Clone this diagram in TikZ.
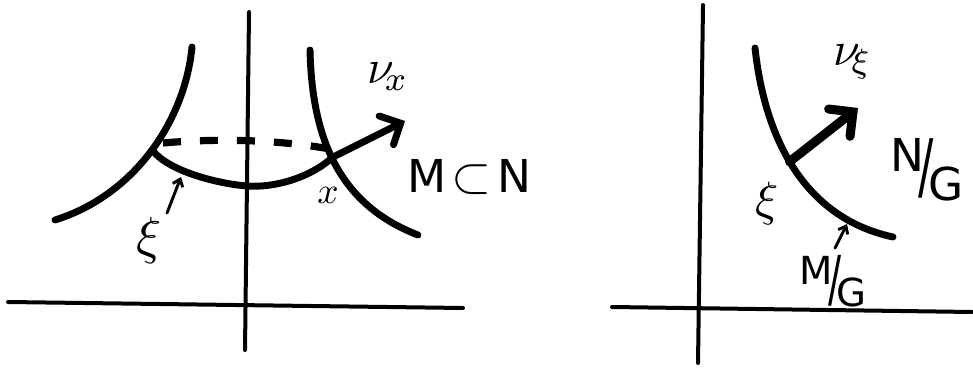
\documentclass[tikz,border=0pt]{standalone}
\usepackage{graphicx}
\usepackage{fontspec}
\setmainfont{DejaVu Sans}
\usetikzlibrary{arrows.meta}
\newcommand{\mysc}[2]{\scalebox{#1}{$#2$}}
\newcommand{\myslash}{\raisebox{-0.12em}{\scalebox{1}[1.6]{/}}}
\tikzset{
  axis/.style={line width=3pt, line cap=round},
  curve/.style={line width=5.2pt, line cap=round},
  dashcurve/.style={line width=5.4pt, line cap=butt, dash pattern=on 13.5pt off 14.25pt},
  bigarrow/.style={line width=5.2pt, line cap=round, -{Straight Barb[length=12pt,width=24pt,line cap=round]}},
  fatarrow/.style={line width=6.8pt, line cap=round, -{Straight Barb[length=13pt,width=26pt,line cap=round]}},
  smallarrow/.style={line width=2.2pt, line cap=round, -{Straight Barb[length=5pt,width=8pt]}},
  lbl/.style={inner sep=0pt},
  capslbl/.style={inner sep=0pt, font=\fontsize{34}{40}\selectfont},
  mglbl/.style={inner sep=0pt, font=\fontsize{29}{34}\selectfont}
}
\begin{document}
\begin{tikzpicture}[x=0.75pt,y=-0.75pt]
\useasboundingbox (0,0) rectangle (973,370);

% ---------------- left panel ----------------
\coordinate (LvT) at (249,12);
\coordinate (LvB) at (245,350);
\coordinate (LhL) at (8,302);
\coordinate (LhR) at (463,308);
\draw[axis] (LvT) -- (LvB);
\draw[axis] (LhL) -- (LhR);

% hyperbola branches
\coordinate (lbT) at (192,47);
\coordinate (lbB) at (55,220);
\draw[curve] (lbT) .. controls (185,120) and (135,195) .. (lbB);
\coordinate (rbT) at (310,50);
\coordinate (rbB) at (418,235);
\draw[curve] (rbT) .. controls (312,140) and (340,205) .. (rbB);

% back (dashed) half of the orbit
\coordinate (dA) at (163,143);
\coordinate (dB) at (330,149);
\draw[dashcurve] (dA) .. controls (220,138) and (280,140) .. (dB);

% front half of the orbit
\coordinate (xi1) at (153,151);
\coordinate (obot) at (247,186);
\coordinate (xpt) at (333,157);
\draw[curve] (xi1) .. controls (170,172) and (220,184) .. (obot)
                    .. controls (274,188) and (310,178) .. (xpt);

% normal vector nu_x
\coordinate (nuxTip) at (405,121);
\draw[bigarrow] (xpt) -- (nuxTip);

\node[lbl] (nux) at (388,77) {\mysc{3.6}{\nu_{\!x}}};
\node[lbl] (xlab) at (328,195) {\mysc{2.8}{x}};
\node[lbl] (xiL) at (149,240) {\mysc{3.9}{\xi}};
\coordinate (xiLa) at (167,213);
\coordinate (xiLb) at (181,177);
\draw[smallarrow] (xiLa) -- (xiLb);
\node[capslbl] (MN) at (469,177) {M\kern0.12em\raisebox{0.02em}{\mysc{1.55}{\subset}}\kern0.12em N};

% ---------------- right panel ----------------
\coordinate (RvT) at (703,5);
\coordinate (RvB) at (698,363);
\coordinate (RhL) at (612,307);
\coordinate (RhR) at (972,312);
\draw[axis] (RvT) -- (RvB);
\draw[axis] (RhL) -- (RhR);

\coordinate (mgT) at (755,48);
\coordinate (mgE) at (893,237);
\draw[curve] (mgT) .. controls (765,140) and (805,218) .. coordinate[pos=0.46] (xiR) (mgE);

\coordinate (nuxiTip) at (858,108);
\draw[fatarrow] (xiR) -- (nuxiTip);

\node[lbl] (nuxi) at (853,62) {\mysc{3.6}{\nu_{\!\xi}}};
\node[capslbl] (NG) at (927,170) {\raisebox{0.32em}{N}\kern-0.12em\myslash\kern-0.12em\raisebox{-0.32em}{G}};
\node[lbl] (xiRl) at (767,203) {\mysc{3.6}{\xi}};
\node[mglbl] (MG) at (833,281) {\raisebox{0.28em}{M}\kern-0.12em\myslash\kern-0.12em\raisebox{-0.28em}{G}};
\coordinate (mgA) at (835,248);
\coordinate (mgB) at (847,224);
\draw[smallarrow] (mgA) -- (mgB);
\end{tikzpicture}
\end{document}
